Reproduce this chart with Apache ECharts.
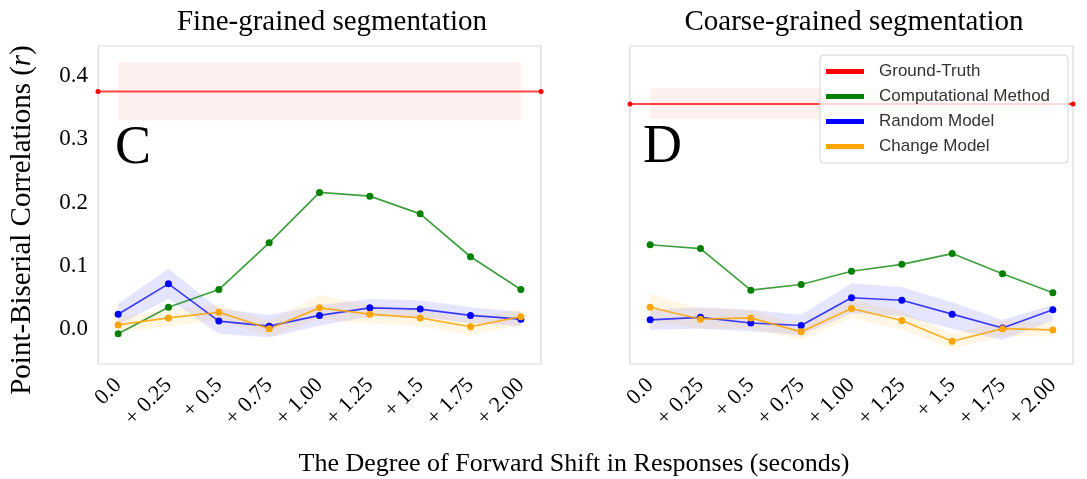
<!DOCTYPE html>
<html>
<head>
    <meta charset="utf-8">
    <title>Point-Biserial Correlations</title>
    <script src="https://cdn.jsdelivr.net/npm/echarts@6.0.0/dist/echarts.min.js"></script>
    <style>
        body { margin: 0; background: #fff; }
        #main { width: 1087px; height: 479px; }
    </style>
</head>
<body>
<div id="main"></div>
<script type="text/javascript">
    // x positions (index of shift) and their labels
    var shifts = [0, 1, 2, 3, 4, 5, 6, 7, 8];
    var xLabels = ['0.0', '+ 0.25', '+ 0.5', '+ 0.75', '+ 1.00', '+ 1.25', '+ 1.5', '+ 1.75', '+ 2.00'];
    var yTicks = [0, 0.1, 0.2, 0.3, 0.4];

    // C: fine-grained
    var gtFine = 0.376;
    var gtFineBand = [0.330, 0.422];
    var compFine = [-0.008, 0.034, 0.062, 0.136, 0.216, 0.210, 0.182, 0.114, 0.062];
    var randFine = [0.023, 0.071, 0.012, 0.004, 0.021, 0.033, 0.031, 0.021, 0.015];
    var randFineLo = [0.006, 0.047, -0.008, -0.014, 0.005, 0.019, 0.018, 0.009, 0.004];
    var randFineHi = [0.040, 0.095, 0.032, 0.022, 0.037, 0.047, 0.045, 0.034, 0.027];
    var changeFine = [0.006, 0.017, 0.026, 0.000, 0.033, 0.023, 0.017, 0.003, 0.019];
    var changeFineLo = [-0.006, 0.004, 0.013, -0.012, 0.015, 0.008, 0.004, -0.010, 0.006];
    var changeFineHi = [0.018, 0.030, 0.038, 0.012, 0.053, 0.038, 0.030, 0.016, 0.032];

    // D: coarse-grained
    var gtCoarse = 0.356;
    var gtCoarseBand = [0.332, 0.381];
    var compCoarse = [0.133, 0.127, 0.061, 0.070, 0.091, 0.102, 0.119, 0.087, 0.057];
    var randCoarse = [0.014, 0.018, 0.009, 0.005, 0.049, 0.045, 0.023, 0.001, 0.030];
    var randCoarseLo = [-0.002, 0.000, -0.004, -0.010, 0.024, 0.020, 0.000, -0.018, 0.013];
    var randCoarseHi = [0.030, 0.034, 0.030, 0.022, 0.072, 0.066, 0.042, 0.014, 0.038];
    var changeCoarse = [0.034, 0.015, 0.017, -0.005, 0.032, 0.013, -0.020, 0.000, -0.002];
    var changeCoarseLo = [0.012, 0.000, 0.000, -0.018, 0.017, -0.002, -0.032, -0.012, -0.012];
    var changeCoarseHi = [0.055, 0.032, 0.030, 0.004, 0.046, 0.028, -0.008, 0.012, 0.010];

    var serif = 'Liberation Serif';
    var xMin = -0.4, xMax = 8.4;

    function pairs(vals) {
        return shifts.map(function (x, i) { return [x, vals[i]]; });
    }

    function lineSeries(name, vals, color, lineColor, idx) {
        return {
            name: name,
            type: 'line',
            xAxisIndex: idx,
            yAxisIndex: idx,
            data: pairs(vals),
            symbol: 'circle',
            symbolSize: 7,
            z: 3,
            itemStyle: {color: color},
            lineStyle: {color: lineColor, width: 1.7}
        };
    }

    function bandSeries(lo, hi, fill, idx) {
        return {
            type: 'custom',
            xAxisIndex: idx,
            yAxisIndex: idx,
            z: 1,
            silent: true,
            data: shifts.map(function (x, i) { return [x, lo[i], hi[i]]; }),
            encode: {x: 0, y: [1, 2]},
            renderItem: function (params, api) {
                if (params.dataIndex !== 0) return;
                var pts = [];
                for (var i = 0; i < shifts.length; i++) pts.push(api.coord([shifts[i], hi[i]]));
                for (var j = shifts.length - 1; j >= 0; j--) pts.push(api.coord([shifts[j], lo[j]]));
                return {type: 'polygon', shape: {points: pts}, style: {fill: fill}};
            }
        };
    }

    function gtSeries(val, band, idx) {
        return {
            name: 'Ground-Truth',
            type: 'line',
            xAxisIndex: idx,
            yAxisIndex: idx,
            data: [[xMin, val], [xMax, val]],
            symbol: 'circle',
            symbolSize: 5,
            z: 2,
            itemStyle: {color: '#ff0000'},
            lineStyle: {color: 'rgba(255,0,0,0.72)', width: 1.9},
            markArea: {
                silent: true,
                itemStyle: {color: 'rgba(255,0,0,0.06)'},
                data: [[{coord: [0, band[0]]}, {coord: [8, band[1]]}]]
            }
        };
    }

    function xAxis(idx) {
        return {
            gridIndex: idx, type: 'value', min: xMin, max: xMax,
            axisLine: {show: false}, axisTick: {show: false}, splitLine: {show: false},
            axisLabel: {
                customValues: shifts, rotate: 45, margin: 18,
                fontFamily: serif, fontSize: 22, color: '#000',
                formatter: function (v) { return xLabels[Math.round(v)]; }
            }
        };
    }

    function yAxis(idx, showLabels) {
        return {
            gridIndex: idx, type: 'value', min: -0.056, max: 0.448,
            axisLine: {show: false}, axisTick: {show: false}, splitLine: {show: false},
            axisLabel: {
                show: showLabels, customValues: yTicks, margin: 10,
                fontFamily: serif, fontSize: 23, color: '#000',
                formatter: function (v) { return v.toFixed(1); }
            }
        };
    }

    var myChart = echarts.init(document.getElementById('main'));

    var option = {
        animation: false,
        grid: [
            {left: 98, top: 46, width: 443, height: 318, show: true, borderColor: '#d9d9d9', borderWidth: 1.2},
            {left: 630, top: 46, width: 443, height: 318, show: true, borderColor: '#d9d9d9', borderWidth: 1.2}
        ],
        xAxis: [xAxis(0), xAxis(1)],
        yAxis: [yAxis(0, true), yAxis(1, false)],
        legend: {
            data: ['Ground-Truth', 'Computational Method', 'Random Model', 'Change Model'],
            orient: 'vertical',
            left: 820, top: 55,
            padding: [8, 18, 8, 6],
            itemGap: 8,
            icon: 'rect',
            itemWidth: 38, itemHeight: 5,
            selectedMode: false,
            backgroundColor: 'rgba(255,255,255,0.8)',
            borderColor: '#d4d4d4', borderWidth: 1, borderRadius: 4,
            textStyle: {fontFamily: 'Liberation Sans', fontSize: 17, color: '#333', padding: [0, 0, 0, 10]},
            z: 10
        },
        graphic: [
            {type: 'text', x: 332, y: 22, style: {text: 'Fine-grained segmentation', fontFamily: serif, fontSize: 29, fill: '#000', align: 'center', verticalAlign: 'middle'}},
            {type: 'text', x: 854, y: 22, style: {text: 'Coarse-grained segmentation', fontFamily: serif, fontSize: 29, fill: '#000', align: 'center', verticalAlign: 'middle'}},
            {type: 'text', x: 115, y: 149, style: {text: 'C', fontFamily: serif, fontSize: 54, fill: '#000', align: 'left', verticalAlign: 'middle'}},
            {type: 'text', x: 643, y: 148, style: {text: 'D', fontFamily: serif, fontSize: 54, fill: '#000', align: 'left', verticalAlign: 'middle'}},
            {type: 'text', x: 574, y: 464, style: {text: 'The Degree of Forward Shift in Responses (seconds)', fontFamily: serif, fontSize: 26, fill: '#000', align: 'center', verticalAlign: 'middle'}},
            {
                type: 'text', x: 22, y: 220, rotation: Math.PI / 2,
                style: {
                    text: 'Point-Biserial Correlations ({i|r})', fontFamily: serif, fontSize: 29, fill: '#000',
                    align: 'center', verticalAlign: 'middle',
                    rich: {i: {fontFamily: serif, fontSize: 29, fontStyle: 'italic', fill: '#000'}}
                }
            }
        ],
        series: [
            gtSeries(gtFine, gtFineBand, 0),
            bandSeries(randFineLo, randFineHi, 'rgba(0,0,255,0.1)', 0),
            bandSeries(changeFineLo, changeFineHi, 'rgba(255,165,0,0.1)', 0),
            lineSeries('Computational Method', compFine, '#008000', 'rgba(0,128,0,0.75)', 0),
            lineSeries('Random Model', randFine, '#0000ff', 'rgba(0,0,255,0.75)', 0),
            lineSeries('Change Model', changeFine, '#ffa500', 'rgba(255,165,0,0.85)', 0),

            gtSeries(gtCoarse, gtCoarseBand, 1),
            bandSeries(randCoarseLo, randCoarseHi, 'rgba(0,0,255,0.1)', 1),
            bandSeries(changeCoarseLo, changeCoarseHi, 'rgba(255,165,0,0.1)', 1),
            lineSeries('Computational Method', compCoarse, '#008000', 'rgba(0,128,0,0.75)', 1),
            lineSeries('Random Model', randCoarse, '#0000ff', 'rgba(0,0,255,0.75)', 1),
            lineSeries('Change Model', changeCoarse, '#ffa500', 'rgba(255,165,0,0.85)', 1)
        ]
    };
    myChart.setOption(option);
</script>
</body>
</html>
